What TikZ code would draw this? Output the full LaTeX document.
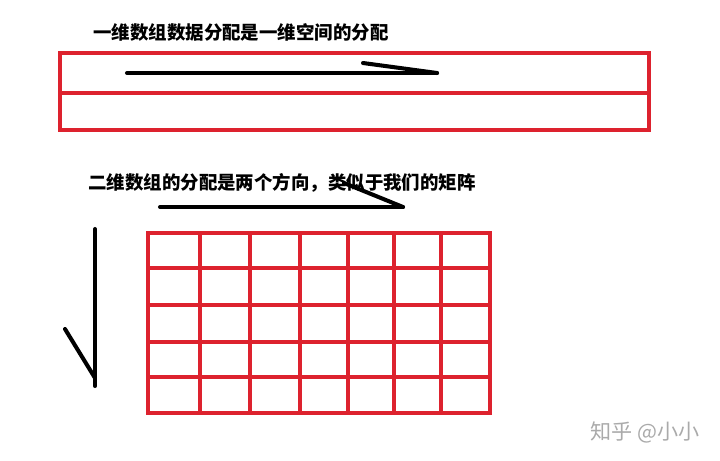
\documentclass[tikz,border=0pt]{standalone}
\usepackage{fontspec}
\newfontfamily\cjk{Noto Sans CJK SC}
\usetikzlibrary{calc}
\definecolor{penred}{RGB}{221,34,46}
\definecolor{markgray}{RGB}{170,170,170}
\tikzset{
	redline/.style={draw=penred, line width=2.2pt},
	inkline/.style={draw=black, line width=2.3pt, line cap=round},
	title/.style={font=\cjk\bfseries\fontsize{10.5}{12}\selectfont, anchor=west, inner sep=0pt}
}
% hand drawn arrow: tail, tip, end of the barb
\newcommand{\sketcharrow}[3]
{
	\draw[inkline] (#1) -- (#2);
	\draw[inkline] (#3) -- (#2);
}

\begin{document}
\begin{tikzpicture}[x=0.02cm, y=-0.02cm]
	% 720 x 460 px, y runs downwards
	\useasboundingbox (0,0) rectangle (720,460);
	% one dimension
	\node[title] (onedim) at (93,32) {一维数组数据分配是一维空间的分配};
	\draw[redline] (60,53) rectangle (649,130);
	\draw[redline] (60,93) -- (649,93);
	\coordinate (rowtail) at (127,73);
	\coordinate (rowtip) at (437,73);
	\coordinate (rowbarb) at (363,63);
	\sketcharrow{rowtail}{rowtip}{rowbarb};
	% two dimensions
	\node[title] (twodim) at (88,183) {二维数组的分配是两个方向，类似于我们的矩阵};
	\coordinate (coltail) at (160,207);
	\coordinate (coltip) at (403,207);
	\coordinate (colbarb) at (344,183);
	\sketcharrow{coltail}{coltip}{colbarb};
	\coordinate (downtail) at (95,229);
	\coordinate (downtip) at (95,386);
	\coordinate (downbarb) at (65,329);
	\draw[inkline] (downtail) -- (downtip);
	\draw[inkline] (downbarb) -- (95,378);
	% matrix 7 x 5
	\draw[redline] (148,233) rectangle (490,413);
	\foreach \x in {200,250,300,348,394,441}
		\draw[redline] (\x,233) -- (\x,413);
	\foreach \y in {268,305,342,377}
		\draw[redline] (148,\y) -- (490,\y);
	% watermark
	\node[font=\cjk\fontsize{12}{14}\selectfont, text=markgray, anchor=west, inner sep=0pt] (mark) at (590,432) {知乎 @小小};
\end{tikzpicture}
\end{document}
